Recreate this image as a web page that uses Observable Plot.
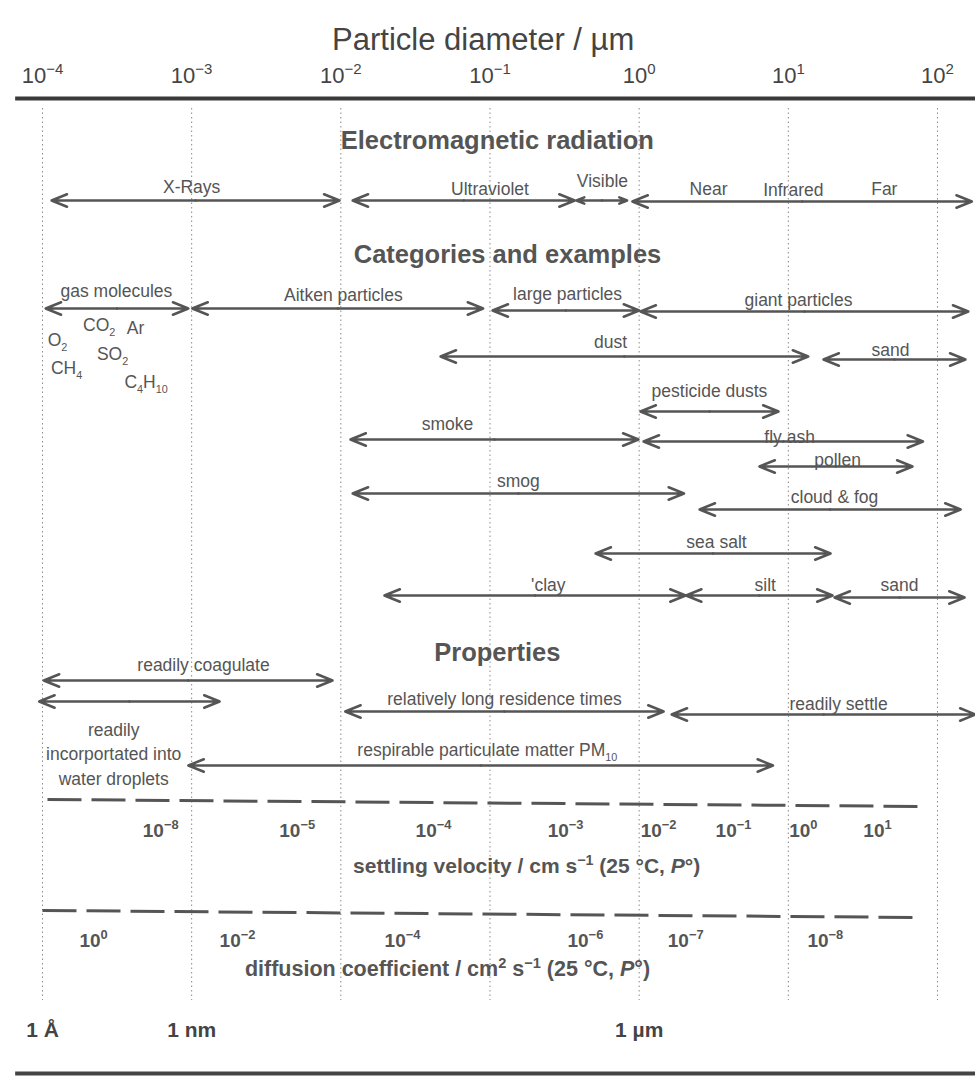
<!DOCTYPE html>
<html><head><meta charset="utf-8">
<script src="https://cdn.jsdelivr.net/npm/d3@7"></script>
<script src="https://cdn.jsdelivr.net/npm/@observablehq/plot@0.6"></script>
<style>body{margin:0;background:#fff}svg{display:block}</style>
</head><body><div id="chart"></div>
<script>
// ---------- data ----------
const decades = [1e-4, 1e-3, 1e-2, 1e-1, 1, 10, 100];
const decadeLabels = ["10⁻⁴", "10⁻³", "10⁻²", "10⁻¹", "10⁰", "10¹", "10²"];

const sectionTitles = ["Electromagnetic radiation", "Categories and examples", "Properties"];

// electromagnetic radiation (µm)
const emBands = ["X-Rays", "Ultraviolet", "Visible", "Infrared"];
const emFrom = [1.15e-4, 0.012, 0.38, 0.9];
const emTo = [0.0098, 0.37, 0.83, 170];
const emLabels = ["X-Rays", "Ultraviolet", "Visible", "Near", "Infrared", "Far"];
const emLabelAt = [1e-3, 0.1, 0.567, 2.92, 10.8, 44];

// categories and examples (µm)
const catNames = ["gas molecules", "Aitken particles", "large particles", "giant particles",
  "dust", "sand", "pesticide dusts", "smoke", "fly ash", "pollen", "smog", "cloud & fog",
  "sea salt", "'clay", "silt", "sand"];
const catFrom = [1.05e-4, 1.01e-3, 0.104, 1.02, 0.0466, 17.2, 1.02, 0.0116, 1.07, 6.4, 0.012, 2.54, 0.51, 0.0196, 2.06, 20.4];
const catTo = [9.5e-4, 0.090, 1.0, 161, 13.6, 154, 8.6, 0.99, 80, 68, 2.0, 143, 19.2, 2.05, 19.8, 152];
const catLabelAt = [3.13e-4, 0.0104, 0.331, 11.7, 0.643, 48.4, 2.96, 0.0519, 10.2, 21.4, 0.155, 20.4, 3.3, 0.246, 7.0, 55.6];

const gases = ["CO₂", "Ar", "O₂", "SO₂", "CH₄", "C₄H₁₀"];
const gasAt = [2.4e-4, 4.2e-4, 1.26e-4, 2.95e-4, 1.45e-4, 4.95e-4];

// properties (µm)
const propNames = ["readily coagulate", "readily\nincorportated into\nwater droplets",
  "relatively long residence times", "readily settle", "respirable particulate matter PM₁₀"];
const propFrom = [1.02e-4, 9.5e-5, 0.0107, 1.65, 9.5e-4];
const propTo = [0.0088, 1.54e-3, 1.46, 180, 7.9];
const propLabelAt = [1.2e-3, 3.0e-4, 0.125, 21.7, 0.096];

// settling velocity / cm s-1 and diffusion coefficient / cm2 s-1 read at particle diameter (µm)
const settlingLabels = ["10⁻⁸", "10⁻⁵", "10⁻⁴", "10⁻³", "10⁻²", "10⁻¹", "10⁰", "10¹"];
const settlingAt = [6.2e-4, 5.1e-3, 0.0418, 0.321, 1.35, 4.29, 12.6, 39.6];
const diffusionLabels = ["10⁰", "10⁻²", "10⁻⁴", "10⁻⁶", "10⁻⁷", "10⁻⁸"];
const diffusionAt = [2.2e-4, 2.03e-3, 0.0259, 0.436, 2.05, 17.7];

const unitMarks = ["1 Å", "1 nm", "1 µm"];
const unitAt = [1e-4, 1e-3, 1];

// ---------- layout (vertical positions, px) ----------
const L = {
  axisTitleY: 40, tickY: 75, topRuleY: 98, gridTop: 108, gridBottom: 1000,
  titleY: [140, 254, 652], titleAt: [0.112, 0.131, 0.112],
  emArrowY: [200, 200, 200, 201], emLabelY: [185, 187, 179, 187, 188, 187],
  catArrowY: [308, 308, 310, 311, 356, 359, 411, 439, 441, 466, 493, 509, 553, 595, 595, 597],
  catLabelY: [289, 293, 292, 298, 340, 348, 389, 422, 435, 458, 479, 495, 540, 583, 583, 583],
  gasY: [325, 328, 340, 354, 368, 382],
  propArrowY: [680, 701, 711, 714, 765], propLabelY: [663, 752, 697, 702, 748],
  settleLine: [799, 806], settleLineX: [1.08e-4, 85], settleY: 830, settleTitleY: 866, settleTitleAt: 0.176,
  diffLine: [910, 917], diffLineX: [1e-4, 75], diffY: 940, diffTitleY: 969, diffTitleAt: 0.0519,
  unitY: 1030, bottomRuleY: 1073, ruleX: [10 ** -4.18, 180]
};

const ink = "#555";
const arrows = [
  ...emBands.map((n, i) => ({n, from: emFrom[i], to: emTo[i], y: L.emArrowY[i]})),
  ...catNames.map((n, i) => ({n, from: catFrom[i], to: catTo[i], y: L.catArrowY[i]})),
  ...propNames.map((n, i) => ({n, from: propFrom[i], to: propTo[i], y: L.propArrowY[i]}))
];
const labels = [
  ...emLabels.map((t, i) => ({t, x: emLabelAt[i], y: L.emLabelY[i]})),
  ...catNames.map((t, i) => ({t, x: catLabelAt[i], y: L.catLabelY[i]})),
  ...propNames.map((t, i) => ({t, x: propLabelAt[i], y: L.propLabelY[i]}))
];
const mid = d => Math.sqrt(d.from * d.to);
const arrowOpts = {stroke: ink, strokeWidth: 2.5, headLength: 10, headAngle: 44};

const chart = Plot.plot({
  width: 975, height: 1077,
  marginTop: 0, marginBottom: 0, marginLeft: 0, marginRight: 0,
  x: {type: "log", domain: [1e-4, 100], range: [42, 937], axis: null},
  y: {domain: [0, 1077], range: [0, 1077], axis: null},
  style: {fontFamily: "'Liberation Sans', Arial, Helvetica, sans-serif", background: "#fff"},
  marks: [
    // grid
    Plot.ruleX(decades, {x: d => d, y1: L.gridTop, y2: L.gridBottom, stroke: "#8a8a8a", strokeWidth: 1, strokeDasharray: "1.5,3"}),
    // top axis
    Plot.text(["Particle diameter / µm"], {x: 0.09, y: L.axisTitleY, text: d => d, fontSize: 31, fill: "#444"}),
    Plot.text(decades, {x: d => d, y: L.tickY, text: (d, i) => decadeLabels[i], fontSize: 22, fill: "#444"}),
    Plot.ruleY([L.topRuleY], {x1: L.ruleX[0], x2: L.ruleX[1], y: d => d, stroke: "#3a3a3a", strokeWidth: 4}),
    // section titles
    Plot.text(sectionTitles, {x: (d, i) => L.titleAt[i], y: (d, i) => L.titleY[i], text: d => d, fontSize: 25.5, fontWeight: "bold", fill: ink}),
    // arrows (double-headed)
    Plot.arrow(arrows, {x1: mid, x2: "to", y1: "y", y2: "y", ...arrowOpts}),
    Plot.arrow(arrows, {x1: mid, x2: "from", y1: "y", y2: "y", ...arrowOpts}),
    // labels
    Plot.text(labels, {x: "x", y: "y", text: "t", fontSize: 17.5, fill: ink, lineHeight: 1.42}),
    Plot.text(gases, {x: (d, i) => gasAt[i], y: (d, i) => L.gasY[i], text: d => d, fontSize: 17.5, fill: ink}),
    // settling velocity scale
    Plot.link([0], {x1: L.settleLineX[0], x2: L.settleLineX[1], y1: L.settleLine[0], y2: L.settleLine[1], stroke: ink, strokeWidth: 3, strokeDasharray: "34,10"}),
    Plot.text(settlingLabels, {x: (d, i) => settlingAt[i], y: L.settleY, text: d => d, fontSize: 19, fontWeight: "bold", fill: ink}),
    Plot.text(["settling velocity / cm s⁻¹ (25 °C, P°)"], {x: L.settleTitleAt, y: L.settleTitleY, text: d => d, fontSize: 21, fontWeight: "bold", fill: ink}),
    // diffusion coefficient scale
    Plot.link([0], {x1: L.diffLineX[0], x2: L.diffLineX[1], y1: L.diffLine[0], y2: L.diffLine[1], stroke: ink, strokeWidth: 3, strokeDasharray: "34,10"}),
    Plot.text(diffusionLabels, {x: (d, i) => diffusionAt[i], y: L.diffY, text: d => d, fontSize: 19, fontWeight: "bold", fill: ink}),
    Plot.text(["diffusion coefficient / cm² s⁻¹ (25 °C, P°)"], {x: L.diffTitleAt, y: L.diffTitleY, text: d => d, fontSize: 21.5, fontWeight: "bold", fill: ink}),
    // unit marks
    Plot.text(unitMarks, {x: (d, i) => unitAt[i], y: L.unitY, text: d => d, fontSize: 21, fontWeight: "bold", fill: "#444"}),
    Plot.ruleY([L.bottomRuleY], {x1: L.ruleX[0], x2: L.ruleX[1], y: d => d, stroke: "#444", strokeWidth: 4})
  ]
});
document.getElementById("chart").appendChild(chart);

// render unicode super/subscripts as real raised/lowered text, italic P in unit titles
const SUP = "⁰¹²³⁴⁵⁶⁷⁸⁹⁻", SUB = "₀₁₂₃₄₅₆₇₈₉", PLAIN = "0123456789−";
const ns = "http://www.w3.org/2000/svg";
chart.querySelectorAll("text").forEach(t => {
  if (t.querySelector("tspan")) return;
  const s = t.textContent;
  if (![...s].some(c => SUP.includes(c) || SUB.includes(c)) && !s.includes("P°")) return;
  const fs = parseFloat(getComputedStyle(t).fontSize) || 16;
  const runs = [];
  [...s].forEach((c, i, arr) => {
    let type = "n", ch = c;
    if (SUP.includes(c)) { type = "sup"; ch = PLAIN[SUP.indexOf(c)]; }
    else if (SUB.includes(c)) { type = "sub"; ch = PLAIN[SUB.indexOf(c)]; }
    else if (c === "P" && arr[i + 1] === "°") type = "it";
    const last = runs[runs.length - 1];
    if (last && last.type === type) last.text += ch; else runs.push({type, text: ch});
  });
  t.textContent = "";
  let shift = 0;
  for (const r of runs) {
    const sp = document.createElementNS(ns, "tspan");
    sp.textContent = r.text;
    let target = 0;
    if (r.type === "sup") { target = -0.4 * fs; sp.setAttribute("font-size", (0.68 * fs).toFixed(1)); }
    if (r.type === "sub") { target = 0.25 * fs; sp.setAttribute("font-size", (0.62 * fs).toFixed(1)); }
    if (r.type === "it") sp.setAttribute("font-style", "italic");
    if (target !== shift) sp.setAttribute("dy", (target - shift).toFixed(1));
    shift = target;
    t.appendChild(sp);
  }
});
</script>
</body></html>
